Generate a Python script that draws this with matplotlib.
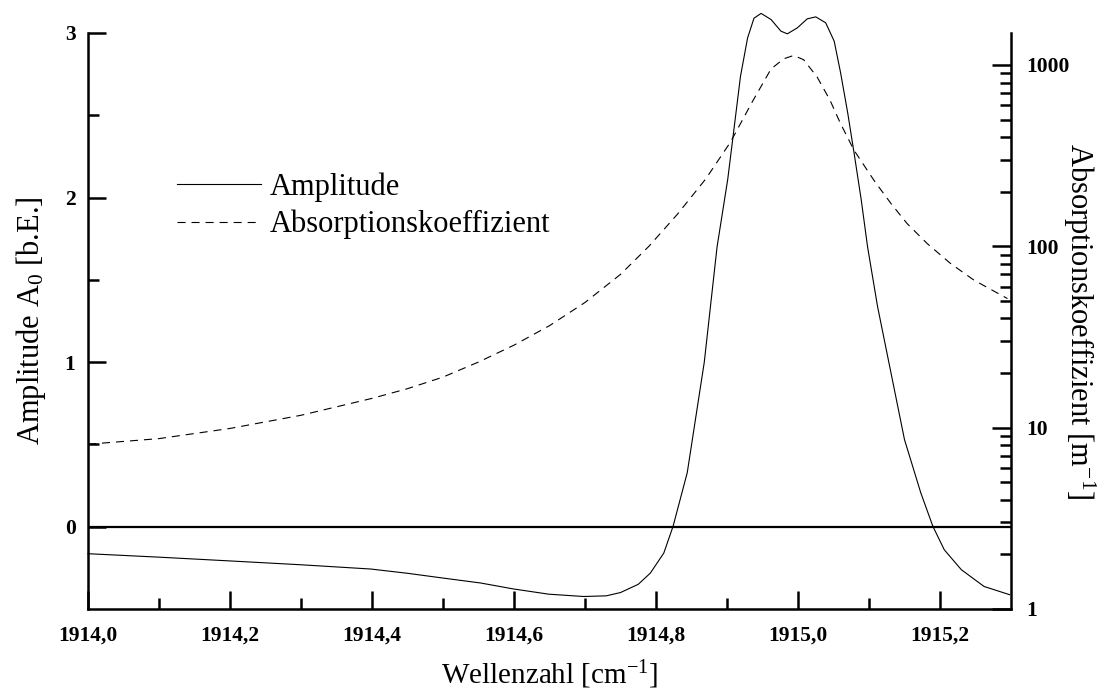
import matplotlib
matplotlib.use("Agg")
import matplotlib.pyplot as plt
from matplotlib.font_manager import FontProperties
from matplotlib.ticker import FixedLocator, FuncFormatter, LogLocator, NullFormatter
from matplotlib.lines import Line2D

plt.rcParams['font.family'] = ['Liberation Serif', 'DejaVu Serif']
plt.rcParams['mathtext.fontset'] = 'custom'
plt.rcParams['mathtext.rm'] = 'Liberation Serif'
plt.rcParams['mathtext.it'] = 'Liberation Serif:italic'
plt.rcParams['lines.scale_dashes'] = False

# Amplitude A0 (left axis) versus wavenumber
amp_wn = [1914.000, 1914.100, 1914.196, 1914.299, 1914.398, 1914.450, 1914.500,
          1914.553, 1914.599, 1914.649, 1914.698, 1914.730, 1914.750, 1914.775,
          1914.792, 1914.811, 1914.824, 1914.844, 1914.868, 1914.886, 1914.901,
          1914.908, 1914.919, 1914.929, 1914.938, 1914.948, 1914.962, 1914.976,
          1914.985, 1914.999, 1915.013, 1915.025, 1915.039, 1915.051, 1915.060,
          1915.070, 1915.079, 1915.089, 1915.098, 1915.112, 1915.131, 1915.150,
          1915.173, 1915.190, 1915.206, 1915.230, 1915.262, 1915.298]
amp_val = [-0.164, -0.185, -0.207, -0.231, -0.257, -0.283, -0.312,
           -0.342, -0.378, -0.410, -0.424, -0.420, -0.400, -0.350,
           -0.282, -0.160, 0.002, 0.328, 1.000, 1.700, 2.110,
           2.353, 2.737, 2.970, 3.090, 3.119, 3.082, 3.011,
           2.995, 3.031, 3.086, 3.098, 3.062, 2.950, 2.758,
           2.515, 2.270, 1.988, 1.700, 1.339, 0.934, 0.529,
           0.205, 0.002, -0.140, -0.261, -0.363, -0.413]

# Absorption coefficient in m^-1 (right axis, logarithmic)
abs_wn = [1914.000, 1914.100, 1914.200, 1914.300, 1914.400, 1914.450, 1914.500,
          1914.550, 1914.600, 1914.650, 1914.700, 1914.750, 1914.790, 1914.830,
          1914.870, 1914.905, 1914.935, 1914.962, 1914.980, 1914.994, 1915.008,
          1915.027, 1915.045, 1915.060, 1915.079, 1915.107, 1915.131, 1915.154,
          1915.182, 1915.215, 1915.248, 1915.295]
abs_val = [8.1, 8.7, 9.9, 11.7, 14.5, 16.4, 19.0,
           23.0, 28.5, 36.5, 49.0, 70.0, 100, 150,
           235, 376, 620, 950, 1082, 1128, 1068,
           857, 640, 474, 338, 231, 172, 133,
           103.5, 80.3, 65.0, 51.5]

x_ticks = [1914.0, 1914.2, 1914.4, 1914.6, 1914.8, 1915.0, 1915.2]
x_minor = [1914.1, 1914.3, 1914.5, 1914.7, 1914.9, 1915.1]
y_ticks = [0, 1, 2, 3]
y_minor = [0.5, 1.5, 2.5]
log_ticks = [1, 10, 100, 1000]

fig = plt.figure(figsize=(11.13, 6.95), dpi=100)
ax = fig.add_axes([88 / 1113, 1 - 609 / 695, (1011 - 88) / 1113, (609 - 33) / 695])
ax2 = ax.twinx()

ax.set_xlim(1914.0, 1915.30)
ax.set_ylim(-0.5, 3.0)
ax2.set_ylim(1, 1500)
ax2.set_yscale('log')

# zero reference line
ax.axhline(0, color='black', lw=1.6, zorder=2)

ax.plot(amp_wn, amp_val, color='black', lw=0.8, clip_on=False, zorder=3)
ax2.plot(abs_wn, abs_val, color='black', lw=0.8, dashes=(5.8, 4.3))

for a in (ax, ax2):
    a.spines['top'].set_visible(False)
    for s in ('left', 'right', 'bottom'):
        a.spines[s].set_linewidth(1.8)
ax.spines['right'].set_visible(False)
ax2.spines['left'].set_visible(False)
ax2.spines['bottom'].set_visible(False)

tick_fp = FontProperties(family='Liberation Serif', weight='bold', size=15.5)

ax.xaxis.set_major_locator(FixedLocator(x_ticks))
ax.xaxis.set_minor_locator(FixedLocator(x_minor))
ax.xaxis.set_major_formatter(FuncFormatter(lambda v, p: f"{v:.1f}".replace('.', ',')))
ax.yaxis.set_major_locator(FixedLocator(y_ticks))
ax.yaxis.set_minor_locator(FixedLocator(y_minor))

ax.tick_params(axis='both', which='major', direction='in', length=13, width=1.8, pad=9)
ax.tick_params(axis='both', which='minor', direction='in', length=8, width=1.8)
ax.tick_params(axis='x', pad=12)
ax.tick_params(axis='both', right=False, top=False)

ax2.yaxis.set_major_locator(FixedLocator(log_ticks))
ax2.yaxis.set_major_formatter(FuncFormatter(lambda v, p: f"{int(round(v))}"))
ax2.yaxis.set_minor_locator(LogLocator(base=10, subs=range(2, 10)))
ax2.yaxis.set_minor_formatter(NullFormatter())
ax2.tick_params(axis='y', which='major', direction='in', length=14, width=1.8, pad=11)
ax2.tick_params(axis='y', which='minor', direction='in', length=8, width=1.8)

for lab in ax.get_xticklabels() + ax.get_yticklabels() + ax2.get_yticklabels():
    lab.set_fontproperties(tick_fp)

ax.set_xlabel('Wellenzahl [cm$^{-1}$]', fontsize=21, labelpad=9)
ax.set_ylabel('Amplitude A$_0$ [b.E.]', fontsize=22, labelpad=12)
ax2.set_ylabel('Absorptionskoeffizient [m$^{-1}$]', fontsize=22, rotation=270, labelpad=20)

handles = [Line2D([], [], color='black', lw=0.8),
           Line2D([], [], color='black', lw=0.8, dashes=(5.8, 4.3))]
fig.legend(handles, ['Amplitude', 'Absorptionskoeffizient'],
           loc='upper left', bbox_to_anchor=(177 / 1113, 1 - 172 / 695),
           frameon=False, fontsize=22, handlelength=2.75, handletextpad=0.3,
           labelspacing=0.27, borderpad=0, borderaxespad=0)

fig.savefig('out.png', dpi=100)
